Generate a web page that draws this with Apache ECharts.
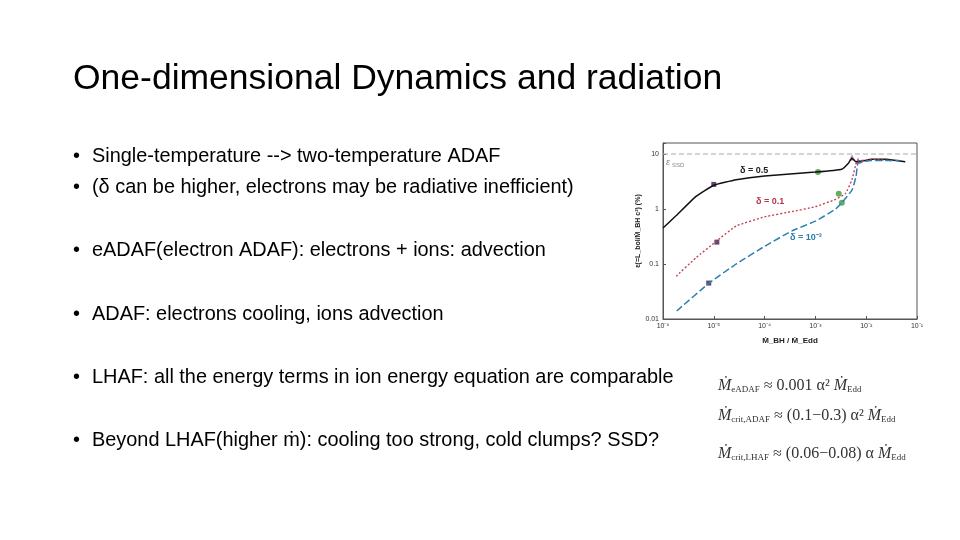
<!DOCTYPE html>
<html><head><meta charset="utf-8">
<script src="https://cdn.jsdelivr.net/npm/echarts@6/dist/echarts.min.js"></script>
<style>html,body{margin:0;background:#fff}#c{width:960px;height:540px}</style></head>
<body><div id="c"></div>
<script>
// x = log10(Mdot/MEdd), y = efficiency (%)
const blackX=[-6,-5.74,-5.35,-5,-4.56,-4,-3,-2.48,-2.35,-2.28,-2.2,-2.02,-1.9,-1.6,-1.23];
const blackY=[0.45,0.76,1.7,2.7,3.4,4.0,4.7,5.3,6.8,8.4,7.2,7.6,8,8,7.2];
const redX=[-5.74,-5.35,-4.95,-4.56,-4,-3.46,-3,-2.6,-2.41,-2.28,-2.18,-1.9,-1.45];
const redY=[0.06,0.13,0.26,0.49,0.72,0.9,1.1,1.5,1.9,3.4,7.3,8,7.5];
const blueX=[-5.73,-5.08,-4.56,-4,-3.46,-3,-2.6,-2.48,-2.28,-2.2,-2.16,-1.9,-1.35];
const blueY=[0.014,0.046,0.1,0.21,0.4,0.6,1.0,1.3,2.2,3.9,6.8,7.6,7.6];
const squares=[[-5,2.8],[-4.94,0.25],[-5.1,0.045]];
const circles=[[-2.95,4.7],[-2.54,1.9],[-2.48,1.3]];
const triangles=[[-2.28,8.6],[-2.16,7.6]];
const bullets=["Single-temperature --> two-temperature ADAF","(δ can be higher, electrons may be radiative inefficient)","eADAF(electron ADAF): electrons + ions: advection","ADAF: electrons cooling, ions advection","LHAF: all the energy terms in ion energy equation are comparable","Beyond LHAF(higher ṁ): cooling too strong, cold clumps? SSD?"];
const bulletY=[158,189,252,316,379,442];
const L=v=>Math.log10(v);
const pts=(xs,ys)=>xs.map((x,i)=>[x,L(ys[i])]);
const sup=v=>({'-6':'10⁻⁶','-5':'10⁻⁵','-4':'10⁻⁴','-3':'10⁻³','-2':'10⁻²','-1':'10⁻¹'})[v];
const ylab={'-2':'0.01','-1':'0.1','0':'1','1':'10'};
const chart=echarts.init(document.getElementById('c'));
const g=[{type:'text',left:73,top:61,style:{text:'One-dimensional Dynamics and radiation',font:'35.5px Liberation Sans, Arial',fill:'#000'}}];
bullets.forEach((b,i)=>{g.push({type:'text',left:73,top:bulletY[i]-11,style:{text:'•',font:'19.9px Liberation Sans',fill:'#000'}});g.push({type:'text',left:92,top:bulletY[i]-11,style:{text:b,font:'19.9px Liberation Sans',fill:'#000'}});});
const fr={b:{font:'italic 16px Liberation Serif',fill:'#333'},s:{font:'9px Liberation Serif',fill:'#333',padding:[8,0,0,0]},n:{font:'16px Liberation Serif',fill:'#333'}};
g.push({type:'text',left:718,top:378,style:{rich:fr,text:'{b|Ṁ}{s|eADAF}{n| ≈ 0.001 α² }{b|Ṁ}{s|Edd}'}});
g.push({type:'text',left:718,top:408,style:{rich:fr,text:'{b|Ṁ}{s|crit,ADAF}{n| ≈ (0.1−0.3) α² }{b|Ṁ}{s|Edd}'}});
g.push({type:'text',left:718,top:446,style:{rich:fr,text:'{b|Ṁ}{s|crit,LHAF}{n| ≈ (0.06−0.08) α }{b|Ṁ}{s|Edd}'}});
g.push({type:'text',left:666,top:158,style:{text:'ε',font:'italic 9px sans-serif',fill:'#888'}});
g.push({type:'text',left:672,top:162,style:{text:'SSD',font:'6px sans-serif',fill:'#888'}});
g.push({type:'text',left:740,top:166,style:{text:'δ = 0.5',font:'bold 9px sans-serif',fill:'#222'}});
g.push({type:'text',left:756,top:197,style:{text:'δ = 0.1',font:'bold 9px sans-serif',fill:'#b03a4a'}});
g.push({type:'text',left:790,top:233,style:{text:'δ = 10⁻³',font:'bold 9px sans-serif',fill:'#2a7da8'}});
chart.setOption({
 animation:false,
 graphic:g,
 grid:{left:663,right:43,top:143,bottom:221,show:true,borderColor:'#555',borderWidth:1},
 xAxis:{type:'value',min:-6,max:-1,interval:1,name:'Ṁ_BH / Ṁ_Edd',nameLocation:'middle',nameGap:18,nameTextStyle:{fontSize:8,fontWeight:'bold',color:'#222'},
  axisLine:{onZero:false,lineStyle:{color:'#555'}},axisTick:{inside:true,length:3},splitLine:{show:false},
  axisLabel:{fontSize:7,color:'#333',margin:4,formatter:v=>sup(v)}},
 yAxis:{type:'value',min:-2,max:1.2,interval:1,name:'ε(=L_bol/Ṁ_BH c²) (%)',nameLocation:'middle',nameGap:20,nameTextStyle:{fontSize:7,fontWeight:'bold',color:'#222'},
  axisLine:{show:true,onZero:false,lineStyle:{color:'#555'}},axisTick:{inside:true,length:3},splitLine:{show:false},
  axisLabel:{fontSize:7,color:'#333',margin:4,formatter:v=>ylab[String(v)]||''}},
 series:[
  {type:'line',data:[[-6,1],[-1,1]],symbol:'none',lineStyle:{color:'#aaa',width:1,type:[5,3]}},
  {type:'line',data:pts(blackX,blackY),symbol:'none',smooth:0.12,lineStyle:{color:'#111',width:1.5}},
  {type:'line',data:pts(redX,redY),symbol:'none',smooth:0.12,lineStyle:{color:'#c0394b',width:1.3,type:[2,2]}},
  {type:'line',data:pts(blueX,blueY),symbol:'none',smooth:0.12,lineStyle:{color:'#2d7fb0',width:1.5,type:[7,3]}},
  {type:'scatter',data:squares.map(p=>[p[0],L(p[1])]),symbol:'rect',symbolSize:5,itemStyle:{color:'#3d1a4f'}},
  {type:'scatter',data:circles.map(p=>[p[0],L(p[1])]),symbol:'circle',symbolSize:6,itemStyle:{color:'#3f9a3a'}},
  {type:'scatter',data:triangles.map(p=>[p[0],L(p[1])]),symbol:'triangle',symbolSize:6,itemStyle:{color:'#a0609a'}}
 ]
});
</script></body></html>
